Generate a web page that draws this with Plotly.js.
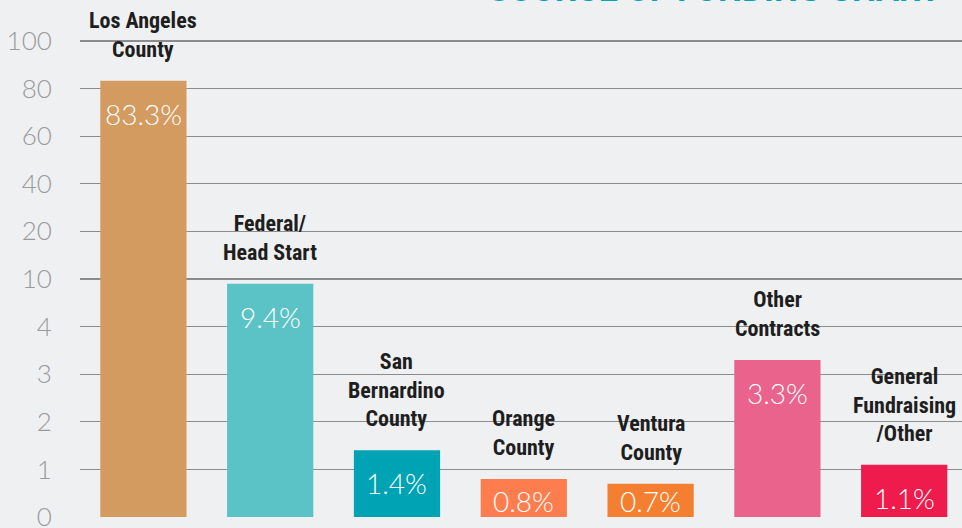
<!DOCTYPE html>
<html>
<head>
<meta charset="utf-8">
<script src="https://cdn.plot.ly/plotly-3.0.1.min.js"></script>
<style>html,body{margin:0;padding:0;background:#eff0f2;}#chart{width:962px;height:528px;}</style>
</head>
<body>
<div id="chart"></div>
<script>
// Data
const categories = ["Los Angeles County","Federal/Head Start","San Bernardino County","Orange County","Ventura County","Other Contracts","General Fundraising/Other"];
const categoryLabels = ["Los Angeles<br>County","Federal/<br>Head Start","San<br>Bernardino<br>County","Orange<br>County","Ventura<br>County","Other<br>Contracts","General<br>Fundraising<br>/Other"];
const percents = [83.3, 9.4, 1.4, 0.8, 0.7, 3.3, 1.1];
const barColors = ["#d39b5f","#5bc3c6","#00a3b4","#fe7d4e","#f47f30","#ea638c","#ee1b4c"];
const tickValuesShown = [0, 1, 2, 3, 4, 10, 20, 40, 60, 80, 100];
const chartTitle = "SOURCE OF FUNDING CHART";

// piecewise scale: each shown tick equally spaced
function scalePos(v) {
  const b = tickValuesShown;
  for (let i = 0; i < b.length - 1; i++) {
    if (v <= b[i + 1]) return i + (v - b[i]) / (b[i + 1] - b[i]);
  }
  return b.length - 1;
}
const positions = percents.map(scalePos);
const tickPositions = tickValuesShown.map(scalePos);

const plotHeightPx = 517;
const yMax = 10.861;
const pxPerUnit = plotHeightPx / yMax;

const labelFont = {family: "'Liberation Sans Narrow', 'Roboto Condensed', 'Arial Narrow', sans-serif", size: 22, color: "#1e1e1e", weight: 700};
const valueFont = {family: "Lato, 'Open Sans', sans-serif", size: 28, color: "#ffffff", weight: 300};

const annotations = [];
categories.forEach((c, i) => {
  const barPx = positions[i] * pxPerUnit;
  annotations.push({
    x: i, y: positions[i], xref: "x", yref: "y",
    text: "<b>" + categoryLabels[i] + "</b>", showarrow: false,
    yanchor: "bottom", xanchor: "center", yshift: 17,
    font: labelFont, align: "center"
  });
  annotations.push({
    x: i, y: positions[i], xref: "x", yref: "y",
    text: percents[i].toFixed(1) + "%", showarrow: false,
    yanchor: "middle", xanchor: "center", yshift: -Math.min(33, barPx - 16),
    font: valueFont
  });
});
annotations.push({
  x: 0.979, y: 1, xref: "paper", yref: "paper",
  text: "<b>" + chartTitle + "</b>", showarrow: false,
  xanchor: "right", yanchor: "bottom", yshift: -11,
  font: {family: "Roboto, 'DejaVu Sans', sans-serif", size: 34, color: "#00a3b4"}
});

const trace = {
  type: "bar",
  x: categories.map((c, i) => i),
  y: positions,
  marker: {color: barColors},
  hoverinfo: "skip"
};

const layout = {
  width: 962, height: 528,
  margin: {l: 80, r: 0, t: 0, b: 11},
  paper_bgcolor: "#eff0f2", plot_bgcolor: "#eff0f2",
  bargap: 0.32,
  showlegend: false,
  xaxis: {range: [-0.5, 6.456], showticklabels: false, showgrid: false, zeroline: false, showline: false, fixedrange: true},
  yaxis: {
    range: [0, yMax],
    tickmode: "array", tickvals: tickPositions, ticktext: tickValuesShown.map(String),
    showgrid: true, gridcolor: "#8c8c8c", gridwidth: 1.3,
    zeroline: false, showline: false,
    ticks: "outside", ticklen: 22, tickcolor: "rgba(0,0,0,0)",
    ticklabeloverflow: "allow",
    tickfont: {family: "Lato, 'Open Sans', sans-serif", size: 26, color: "#9a9a9a", weight: 300},
    fixedrange: true
  },
  annotations: annotations
};

Plotly.newPlot("chart", [trace], layout, {displayModeBar: false, staticPlot: true});
</script>
</body>
</html>
